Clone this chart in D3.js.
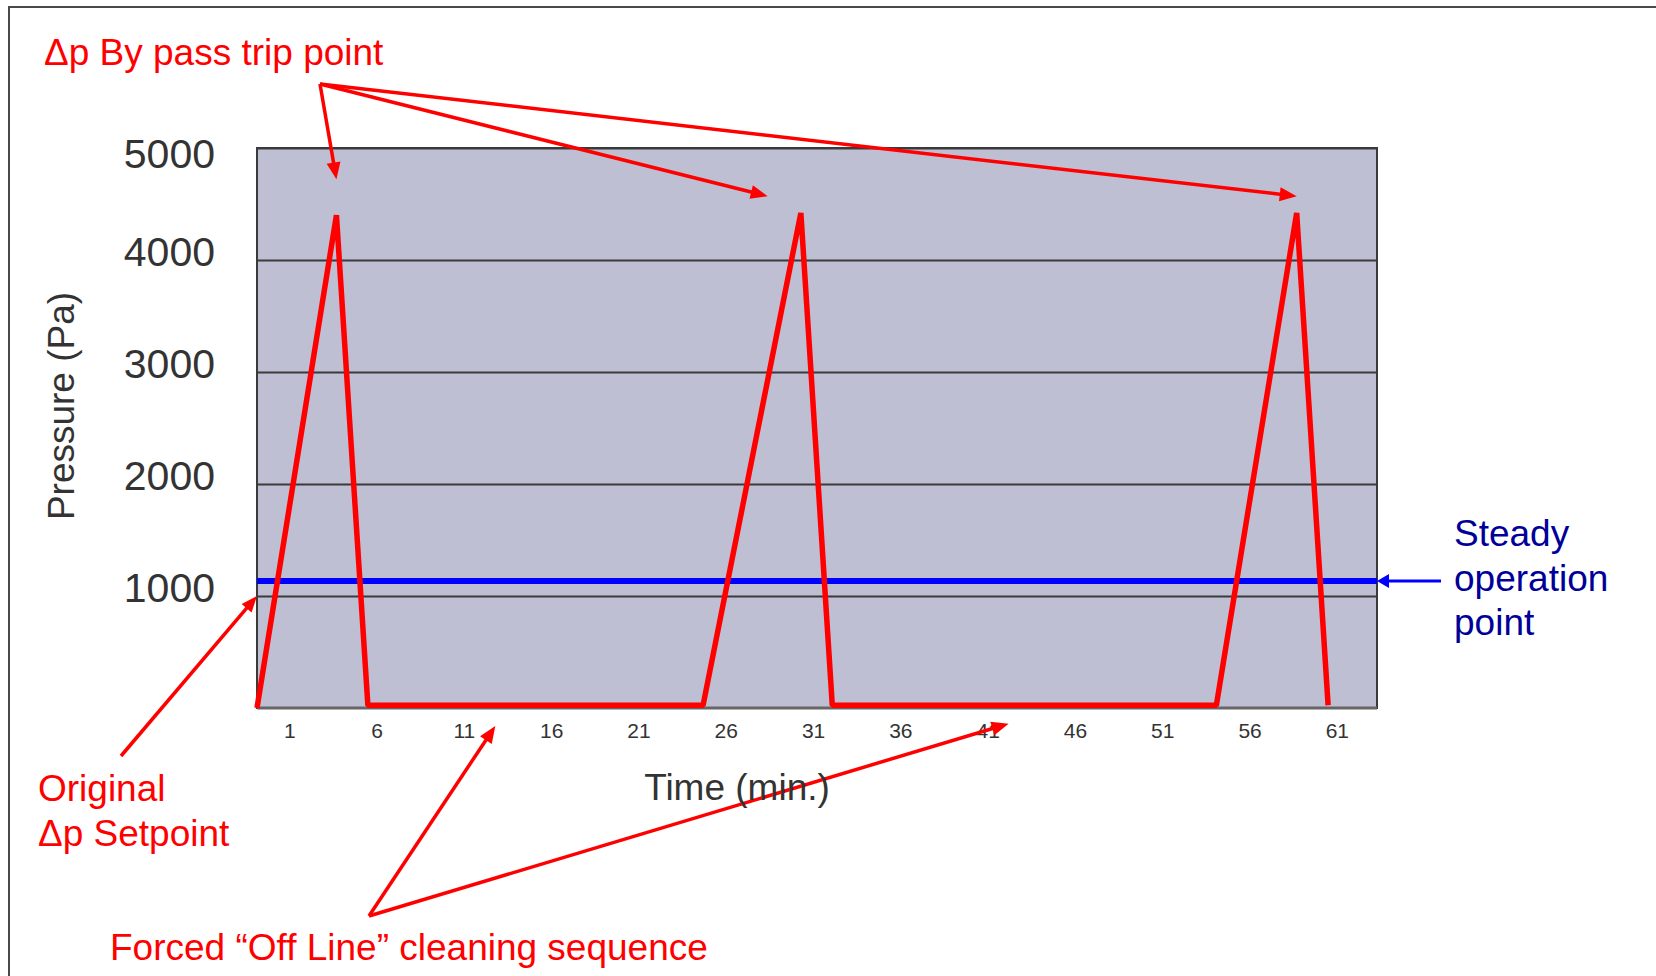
<!DOCTYPE html>
<html>
<head>
<meta charset="utf-8">
<script src="https://cdn.jsdelivr.net/npm/d3@7"></script>
<style>
  body { margin: 0; background: #fff; }
  text { font-family: "Liberation Sans", Arial, sans-serif; }
</style>
</head>
<body>
<svg id="chart" width="1656" height="976"></svg>
<script>
// values: time in minutes, pressure in Pa
var times    = [-0.85, 3.7, 5.5, 24.7, 30.3, 32.1, 54.1, 58.7, 60.5];
var pressure = [0, 4400, 25, 25, 4420, 25, 25, 4420, 25];
var steadyPoint = 1135;   // blue line
var setpoint = 1000;      // original dp setpoint
var xTicks = [1, 6, 11, 16, 21, 26, 31, 36, 41, 46, 51, 56, 61];
var yTicks = [1000, 2000, 3000, 4000, 5000];
var timeRange = [-0.85, 63.3];
// where the annotation arrows point (data units)
var tripTimes = [3.7, 28.4, 58.7],  tripLevels = [4720, 4570, 4570];
var cleanTimes = [12.8, 42.2],      cleanLevels = [-160, -140];

var svg = d3.select("#chart"),
    margin = {left: 257, top: 148, right: 1656 - 1377, bottom: 976 - 708},
    width = 1656 - margin.left - margin.right,
    height = 976 - margin.top - margin.bottom;

var red = "#ff0000", blue = "#0000ff", navy = "#000099", grey = "#3a3a3a";

// outer slide frame
svg.append("rect")
    .attr("x", 9).attr("y", 7)
    .attr("width", 1700).attr("height", 1000)
    .attr("fill", "none").attr("stroke", "#4a4a4a").attr("stroke-width", 2);

var x = d3.scaleLinear().domain(timeRange).range([0, width]);
var y = d3.scaleLinear().domain([0, 5000]).range([height, 0]);

var g = svg.append("g")
    .attr("transform", "translate(" + margin.left + "," + margin.top + ")");

// plot area
g.append("rect")
    .attr("width", width).attr("height", height)
    .attr("fill", "#bebfd2");

// gridlines + y labels
var yAxis = g.append("g")
    .call(d3.axisLeft(y).tickValues(yTicks).tickFormat(d3.format("d"))
            .tickSize(-width).tickPadding(42));
yAxis.select(".domain").remove();
yAxis.selectAll("line").attr("stroke", grey).attr("stroke-width", 2);
yAxis.selectAll("text")
    .attr("font-size", 41)
    .attr("font-family", "Liberation Sans, Arial, sans-serif")
    .attr("fill", "#333")
    .attr("y", function(d) { return Math.max(y(d) - 8, 6) - y(d); });

// plot border
g.append("rect")
    .attr("width", width).attr("height", height)
    .attr("fill", "none").attr("stroke", grey).attr("stroke-width", 2);
g.append("line")
    .attr("x1", 0).attr("x2", width).attr("y1", height).attr("y2", height)
    .attr("stroke", "#666").attr("stroke-width", 3);

// x axis labels
var xAxis = g.append("g")
    .attr("transform", "translate(0," + height + ")")
    .call(d3.axisBottom(x).tickValues(xTicks).tickSize(0).tickPadding(15));
xAxis.select(".domain").remove();
xAxis.selectAll("text")
    .attr("font-size", 21)
    .attr("font-family", "Liberation Sans, Arial, sans-serif")
    .attr("fill", "#333");

// steady operation line
g.append("line")
    .attr("x1", x(timeRange[0])).attr("x2", x(timeRange[1]))
    .attr("y1", y(steadyPoint)).attr("y2", y(steadyPoint))
    .attr("stroke", blue).attr("stroke-width", 6);

// pressure trace
var line = d3.line()
    .x(function(d, i) { return x(times[i]); })
    .y(function(d) { return y(d); });
g.append("path")
    .datum(pressure)
    .attr("d", line)
    .attr("fill", "none")
    .attr("stroke", red)
    .attr("stroke-width", 5.5)
    .attr("stroke-linejoin", "bevel");

// arrow helper (page coords)
function arrow(x1, y1, x2, y2, color, w, len, half) {
  var dx = x2 - x1, dy = y2 - y1, d = Math.sqrt(dx * dx + dy * dy);
  var ux = dx / d, uy = dy / d;
  var bx = x2 - ux * len, by = y2 - uy * len;
  svg.append("line")
      .attr("x1", x1).attr("y1", y1).attr("x2", bx + ux * 2).attr("y2", by + uy * 2)
      .attr("stroke", color).attr("stroke-width", w);
  svg.append("path")
      .attr("d", "M" + x2 + "," + y2 +
                 "L" + (bx - uy * half) + "," + (by + ux * half) +
                 "L" + (bx + uy * half) + "," + (by - ux * half) + "Z")
      .attr("fill", color);
}
function px(t) { return margin.left + x(t); }
function py(v) { return margin.top + y(v); }

// trip point arrows
tripTimes.forEach(function(t, i) {
  arrow(320, 84, px(t), py(tripLevels[i]), red, 3.5, 17, 7);
});
// original setpoint arrow
arrow(121, 756, px(timeRange[0]), py(setpoint), red, 3.5, 16, 6.5);
// cleaning sequence arrows
cleanTimes.forEach(function(t, i) {
  arrow(369, 916, px(t), py(cleanLevels[i]), red, 3.5, 17, 7);
});
// steady point arrow
arrow(px(timeRange[1]) + 64, py(steadyPoint), px(timeRange[1]), py(steadyPoint), blue, 3, 12, 7);

// annotation texts
function label(txt, lx, ly, color, size) {
  return svg.append("text")
      .attr("x", lx).attr("y", ly)
      .attr("font-size", size || 37)
      .attr("fill", color)
      .text(txt);
}
label("\u0394p By pass trip point", 44, 65, red);
label("Original", 38, 801, red);
label("\u0394p Setpoint", 38, 846, red);
label("Forced \u201cOff Line\u201d cleaning sequence", 110, 960, red);
label("Steady", 1454, 546, navy);
label("operation", 1454, 591, navy);
label("point", 1454, 635, navy);

// axis titles
svg.append("text")
    .attr("x", 737).attr("y", 800)
    .attr("text-anchor", "middle")
    .attr("font-size", 37)
    .attr("fill", "#333")
    .text("Time (min.)");
svg.append("text")
    .attr("transform", "translate(74,406) rotate(-90)")
    .attr("text-anchor", "middle")
    .attr("font-size", 37)
    .attr("fill", "#333")
    .text("Pressure (Pa)");
</script>
</body>
</html>
